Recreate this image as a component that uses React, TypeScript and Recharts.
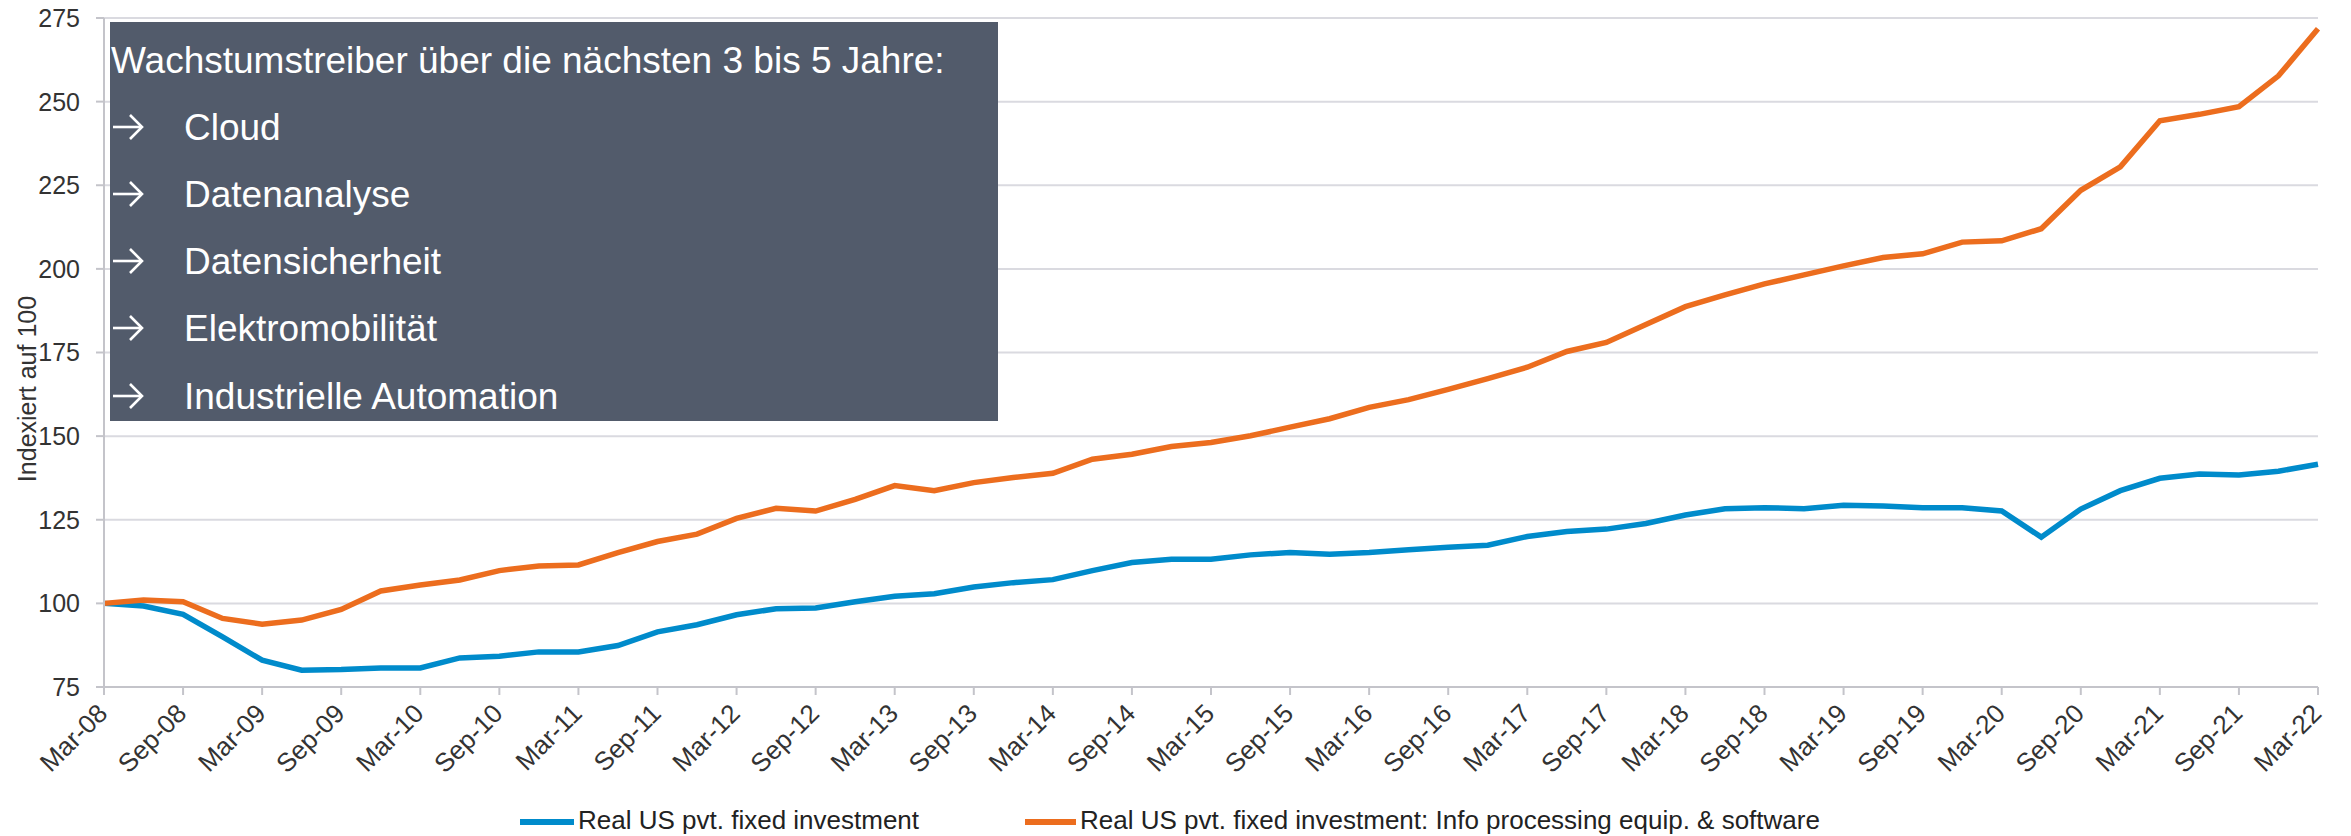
import React from 'react';
import { LineChart, Line, XAxis, YAxis, CartesianGrid } from 'recharts';

const quarters: string[] = [
  'Mar-08','Jun-08','Sep-08','Dec-08','Mar-09','Jun-09','Sep-09','Dec-09',
  'Mar-10','Jun-10','Sep-10','Dec-10','Mar-11','Jun-11','Sep-11','Dec-11',
  'Mar-12','Jun-12','Sep-12','Dec-12','Mar-13','Jun-13','Sep-13','Dec-13',
  'Mar-14','Jun-14','Sep-14','Dec-14','Mar-15','Jun-15','Sep-15','Dec-15',
  'Mar-16','Jun-16','Sep-16','Dec-16','Mar-17','Jun-17','Sep-17','Dec-17',
  'Mar-18','Jun-18','Sep-18','Dec-18','Mar-19','Jun-19','Sep-19','Dec-19',
  'Mar-20','Jun-20','Sep-20','Dec-20','Mar-21','Jun-21','Sep-21','Dec-21',
  'Mar-22',
];

const fixedInvestment: number[] = [
  100, 99.2, 96.7, 90, 83, 80, 80.2, 80.7,
  80.7, 83.7, 84.2, 85.5, 85.5, 87.4, 91.5, 93.6,
  96.6, 98.4, 98.6, 100.5, 102.1, 102.9, 104.9, 106.2,
  107.1, 109.8, 112.2, 113.2, 113.2, 114.5, 115.2, 114.7,
  115.2, 116, 116.8, 117.4, 120, 121.5, 122.2, 123.9,
  126.4, 128.3, 128.6, 128.3, 129.3, 129.1, 128.6, 128.6,
  127.6, 119.8, 128.2, 133.7, 137.4, 138.7, 138.4, 139.5,
  141.6,
];

const infoProcessing: number[] = [
  100, 101, 100.5, 95.5, 93.8, 95, 98.2, 103.7,
  105.5, 107, 109.8, 111.2, 111.5, 115.2, 118.5, 120.7,
  125.4, 128.4, 127.6, 131.1, 135.2, 133.7, 136.1, 137.6,
  138.9, 143.1, 144.6, 146.9, 148.1, 150.1, 152.7, 155.2,
  158.6, 160.9, 164.0, 167.2, 170.6, 175.3, 178, 183.4,
  188.7, 192.2, 195.5, 198.2, 200.9, 203.4, 204.5, 208,
  208.4, 212, 223.5, 230.5, 244.3, 246.2, 248.5, 257.7,
  271.8,
];

const yTicks: number[] = [75, 100, 125, 150, 175, 200, 225, 250, 275];

const seriesNames: string[] = [
  'Real US pvt. fixed investment',
  'Real US pvt. fixed investment: Info processing equip. & software',
];

const boxTitle = 'Wachstumstreiber über die nächsten 3 bis 5 Jahre:';
const boxItems: string[] = [
  'Cloud',
  'Datenanalyse',
  'Datensicherheit',
  'Elektromobilität',
  'Industrielle Automation',
];

const data = quarters.map((q, i) => ({
  q,
  fixed: fixedInvestment[i],
  info: infoProcessing[i],
}));

const FONT = '"Liberation Sans", Arial, Helvetica, sans-serif';
const BLUE = '#008BCB';
const ORANGE = '#EC6D1E';
const TEXT = '#333333';

const CHART_W = 2351;
const CHART_H = 836;
const X_AXIS_H = 149;
const PLOT_BOTTOM = CHART_H - X_AXIS_H;

const XTick = (props: any) => {
  const { x, payload } = props;
  const ax = x + 5;
  const ay = PLOT_BOTTOM + 28;
  return (
    <text
      x={ax}
      y={ay}
      textAnchor="end"
      fontSize={26}
      fontFamily={FONT}
      fill={TEXT}
      transform={`rotate(-45, ${ax}, ${ay})`}
    >
      {payload.value}
    </text>
  );
};

const Arrow = ({ x, y }: { x: number; y: number }) => (
  <g stroke="#FFFFFF" strokeWidth={2.6} fill="none" strokeLinecap="butt">
    <line x1={x} y1={y} x2={x + 29} y2={y} />
    <polyline points={`${x + 17},${y - 12} ${x + 29},${y} ${x + 17},${y + 12}`} />
  </g>
);

export default function App() {
  const itemBaselines = [140, 207, 274, 341, 409];
  return (
    <div style={{ position: 'absolute', left: 0, top: 0, width: CHART_W, height: CHART_H, background: '#FFFFFF', fontFamily: FONT }}>
      <LineChart
        width={CHART_W}
        height={CHART_H}
        data={data}
        margin={{ top: 18, right: 33, bottom: 0, left: 0 }}
      >
        <CartesianGrid horizontal vertical={false} stroke="#DADAE0" strokeWidth={2} />
        <XAxis
          dataKey="q"
          interval={1}
          height={X_AXIS_H}
          tick={<XTick />}
          tickSize={8}
          axisLine={{ stroke: '#C4C4CA', strokeWidth: 2 }}
          tickLine={{ stroke: '#C4C4CA', strokeWidth: 2 }}
        />
        <YAxis
          type="number"
          domain={[75, 275]}
          ticks={yTicks}
          width={104}
          tickSize={8}
          tickMargin={16}
          tick={{ fontSize: 25, fill: TEXT, fontFamily: FONT }}
          axisLine={{ stroke: '#C4C4CA', strokeWidth: 2 }}
          tickLine={{ stroke: '#C4C4CA', strokeWidth: 2 }}
          label={{
            content: () => (
              <text
                x={27}
                y={389}
                textAnchor="middle"
                dominantBaseline="central"
                fontSize={25}
                fontFamily={FONT}
                fill={TEXT}
                transform="rotate(-90, 27, 389)"
              >
                Indexiert auf 100
              </text>
            ),
          }}
        />
        <Line
          type="linear"
          dataKey="fixed"
          name={seriesNames[0]}
          stroke={BLUE}
          strokeWidth={5.5}
          dot={false}
          activeDot={false}
          isAnimationActive={false}
        />
        <Line
          type="linear"
          dataKey="info"
          name={seriesNames[1]}
          stroke={ORANGE}
          strokeWidth={5.5}
          dot={false}
          activeDot={false}
          isAnimationActive={false}
        />
      </LineChart>
      <svg
        width={CHART_W}
        height={CHART_H}
        style={{ position: 'absolute', left: 0, top: 0, pointerEvents: 'none' }}
      >
        <rect x={110} y={22} width={888} height={399} fill="#525B6B" />
        <text x={111} y={73} fontSize={37} fontFamily={FONT} fill="#FFFFFF">
          {boxTitle}
        </text>
        {boxItems.map((item, i) => (
          <g key={item}>
            <Arrow x={113} y={itemBaselines[i] - 13} />
            <text x={184} y={itemBaselines[i]} fontSize={37} fontFamily={FONT} fill="#FFFFFF">
              {item}
            </text>
          </g>
        ))}
        <line x1={520} y1={822} x2={574} y2={822} stroke={BLUE} strokeWidth={6} />
        <text x={578} y={829} fontSize={26} fontFamily={FONT} fill="#222222">
          {seriesNames[0]}
        </text>
        <line x1={1025} y1={822} x2={1076} y2={822} stroke={ORANGE} strokeWidth={6} />
        <text x={1080} y={829} fontSize={26} fontFamily={FONT} fill="#222222">
          {seriesNames[1]}
        </text>
      </svg>
    </div>
  );
}
